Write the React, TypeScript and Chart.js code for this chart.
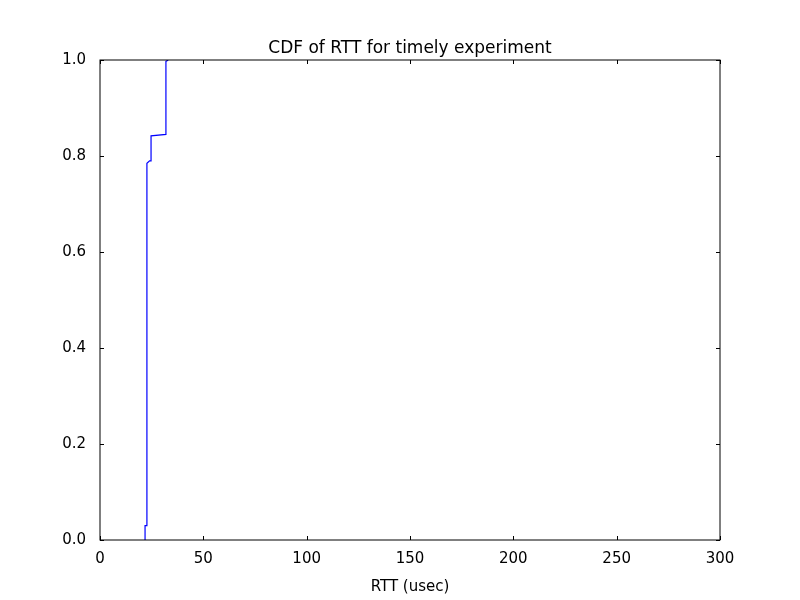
import React, { useEffect, useRef } from "react";
import { Chart, registerables } from "chart.js";
Chart.register(...registerables);

const rttX = [21.8, 21.8, 22.7, 22.7, 24.0, 24.7, 24.7, 31.9, 31.9, 33.0];
const cdfY = [0.0, 0.03, 0.03, 0.785, 0.79, 0.79, 0.842, 0.845, 0.997, 1.0];
const xTicks = [0, 50, 100, 150, 200, 250, 300];
const yTicks = [0, 0.2, 0.4, 0.6, 0.8, 1.0];
const titleText = "CDF of RTT for timely experiment";

const innerTicks = {
  id: "innerTicks",
  afterDraw(chart: any) {
    const { ctx, chartArea: a, scales } = chart;
    ctx.save();
    ctx.strokeStyle = "#000";
    ctx.lineWidth = 1;
    ctx.strokeRect(a.left, a.top, a.right - a.left, a.bottom - a.top);
    ctx.beginPath();
    xTicks.forEach((v) => {
      const p = Math.round(scales.x.getPixelForValue(v)) + 0.5;
      ctx.moveTo(p, a.bottom); ctx.lineTo(p, a.bottom - 4);
      ctx.moveTo(p, a.top); ctx.lineTo(p, a.top + 4);
    });
    yTicks.forEach((v) => {
      const p = Math.round(scales.y.getPixelForValue(v)) + 0.5;
      ctx.moveTo(a.left, p); ctx.lineTo(a.left + 4, p);
      ctx.moveTo(a.right, p); ctx.lineTo(a.right - 4, p);
    });
    ctx.stroke();
    ctx.fillStyle = "#000";
    ctx.font = "17px 'DejaVu Sans'";
    ctx.textAlign = "center";
    ctx.textBaseline = "alphabetic";
    ctx.fillText(titleText, (a.left + a.right) / 2, a.top - 7);
    ctx.restore();
  },
};

export default function App() {
  const ref = useRef<HTMLCanvasElement>(null);
  useEffect(() => {
    document.body.style.margin = "0";
    const font = { family: "DejaVu Sans", size: 15 };
    const chart = new Chart(ref.current!, {
      type: "scatter",
      data: {
        datasets: [{
          data: rttX.map((x, i) => ({ x, y: cdfY[i] })),
          showLine: true,
          borderColor: "#0000ff",
          borderWidth: 1.2,
          pointRadius: 0,
          fill: false,
        }],
      },
      options: {
        animation: false,
        responsive: false,
        layout: { padding: { right: 80, top: 60, bottom: 0, left: 0 } },
        plugins: {
          legend: { display: false },
          tooltip: { enabled: false },
        },
        scales: {
          x: {
            type: "linear", min: 0, max: 300,
            afterBuildTicks: (s: any) => { s.ticks = xTicks.map((v) => ({ value: v })); },
            afterFit: (s: any) => { s.height = 60; },
            grid: { display: false },
            border: { display: false },
            ticks: { color: "#000", font, padding: 2, maxRotation: 0 },
            title: { display: true, text: "RTT (usec)", color: "#000", font, padding: { top: 0 } },
          },
          y: {
            type: "linear", min: 0, max: 1,
            afterBuildTicks: (s: any) => { s.ticks = yTicks.map((v) => ({ value: v })); },
            afterFit: (s: any) => { s.width = 100; },
            grid: { display: false },
            border: { display: false },
            ticks: { color: "#000", font, padding: 6, callback: (v: any) => Number(v).toFixed(1) },
          },
        },
      },
      plugins: [innerTicks],
    });
    return () => chart.destroy();
  }, []);
  return <canvas ref={ref} width={800} height={600} style={{ display: "block", background: "#fff" }} />;
}
